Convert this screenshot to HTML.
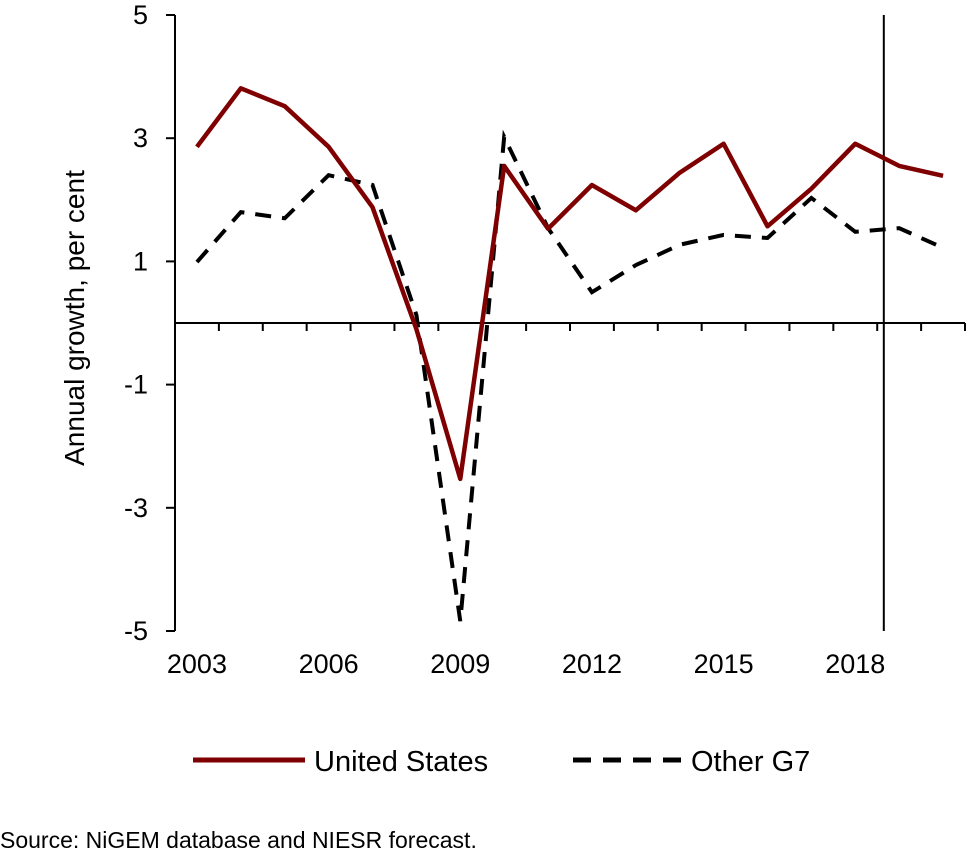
<!DOCTYPE html>
<html><head><meta charset="utf-8"><style>
body{margin:0;background:#fff;}
svg{display:block;font-family:"Liberation Sans",sans-serif;}
</style></head><body>
<svg id="chart" width="967" height="855" viewBox="0 0 967 855">
<g id="axes"></g><g id="series"></g>
<text x="84" y="318" transform="rotate(-90 84 318)" text-anchor="middle" font-size="28" fill="#000">Annual growth, per cent</text>
<g>
<line x1="193" y1="760" x2="305" y2="760" stroke="#7f0000" stroke-width="5"/>
<text x="314" y="771" font-size="29">United States</text>
<line x1="573" y1="760" x2="685" y2="760" stroke="#000" stroke-width="5" stroke-dasharray="18,12"/>
<text x="691" y="771" font-size="29">Other G7</text>
</g>
<text x="0" y="848" font-size="23">Source: NiGEM database and NIESR forecast.</text>
</svg>
<script>
const years=[2003,2004,2005,2006,2007,2008,2009,2010,2011,2012,2013,2014,2015,2016,2017,2018,2019,2020];
const usValues=[2.86,3.81,3.52,2.86,1.88,-0.1,-2.53,2.55,1.53,2.24,1.83,2.44,2.91,1.57,2.18,2.91,2.55,2.39];
const g7Values=[0.99,1.8,1.7,2.4,2.24,0.13,-4.84,3.02,1.54,0.5,0.94,1.27,1.43,1.38,2.03,1.48,1.54,1.22];
const yTicks=[5,3,1,-1,-3,-5];
const xLabels=[2003,2006,2009,2012,2015,2018];
const forecastStart=2018.65;
const NS="http://www.w3.org/2000/svg";
const x0=175,x1=965,yTop=15,yBot=631,vMax=5,vMin=-5;
const step=(x1-x0)/years.length;
const X=y=>x0+step*(y-years[0]+0.5);
const Y=v=>yTop+(vMax-v)/(vMax-vMin)*(yBot-yTop);
function mk(t,a,p){const e=document.createElementNS(NS,t);for(const k in a)e.setAttribute(k,a[k]);p.appendChild(e);return e;}
const ax=document.getElementById('axes'),se=document.getElementById('series');
const ya=mk('line',{x1:x0,y1:yTop,x2:x0,y2:yBot,stroke:'#000','stroke-width':2},ax);


yTicks.forEach(v=>{
 const t=mk('line',{x1:x0-9,y1:Y(v),x2:x0,y2:Y(v),stroke:'#000','stroke-width':2},ax);
 
 
 const l=mk('text',{x:x0-27,y:Y(v)+9,'text-anchor':'end','font-size':27},ax);l.textContent=v;
 
 
});
const xa=mk('line',{x1:x0,y1:Y(0),x2:x1,y2:Y(0),stroke:'#000','stroke-width':2},ax);


for(let i=0;i<=years.length;i++){
 const t=mk('line',{x1:x0+step*i,y1:Y(0),x2:x0+step*i,y2:Y(0)+8,stroke:'#000','stroke-width':2},ax);
 
 
}
xLabels.forEach(y=>{
 const l=mk('text',{x:X(y),y:673,'text-anchor':'middle','font-size':27},ax);l.textContent=y;
 
 
});
const fl=mk('line',{x1:X(forecastStart),y1:yTop,x2:X(forecastStart),y2:yBot,stroke:'#000','stroke-width':2},ax);


const pts=vals=>vals.map((v,i)=>X(years[i])+','+Y(v)).join(' ');
const g7=mk('polyline',{points:pts(g7Values),fill:'none',stroke:'#000','stroke-width':4,'stroke-dasharray':'16,11'},se);


const us=mk('polyline',{points:pts(usValues),fill:'none',stroke:'#7f0000','stroke-width':4.5,'stroke-linejoin':'round'},se);


</script>
</body></html>
